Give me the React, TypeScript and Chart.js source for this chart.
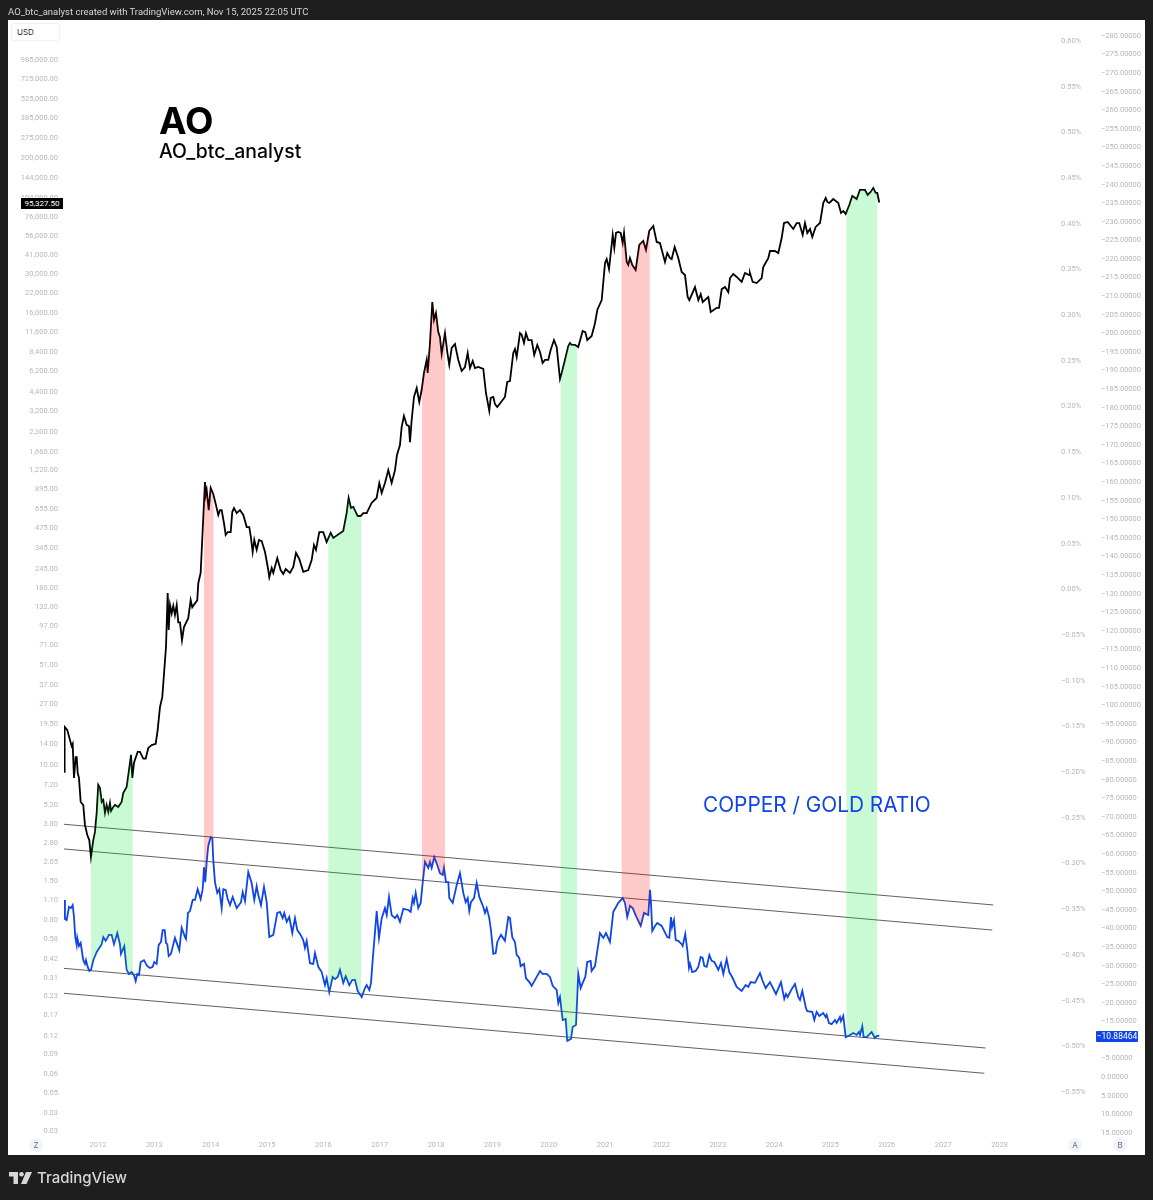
import React, { useEffect, useRef } from 'react';
import { Chart, registerables } from 'chart.js';

Chart.register(...registerables);

const btcYears = [
  2011.397, 2011.402, 2011.414, 2011.455, 2011.503, 2011.533, 2011.551, 2011.574, 2011.604, 2011.622, 2011.64, 2011.663,
  2011.693, 2011.739, 2011.769, 2011.81, 2011.846, 2011.876, 2011.917, 2011.947, 2011.977, 2012.005, 2012.035, 2012.066,
  2012.094, 2012.124, 2012.154, 2012.183, 2012.213, 2012.231, 2012.272, 2012.302, 2012.36, 2012.42, 2012.449, 2012.509,
  2012.568, 2012.586, 2012.609, 2012.639, 2012.705, 2012.745, 2012.804, 2012.846, 2012.893, 2012.953, 2013.024, 2013.059,
  2013.1, 2013.141, 2013.177, 2013.207, 2013.237, 2013.255, 2013.278, 2013.308, 2013.336, 2013.366, 2013.397, 2013.425,
  2013.455, 2013.491, 2013.526, 2013.602, 2013.645, 2013.673, 2013.762, 2013.78, 2013.822, 2013.858, 2013.899, 2013.911,
  2013.929, 2013.965, 2014.0, 2014.046, 2014.094, 2014.135, 2014.165, 2014.195, 2014.236, 2014.266, 2014.302, 2014.355,
  2014.383, 2014.414, 2014.462, 2014.52, 2014.579, 2014.64, 2014.685, 2014.715, 2014.745, 2014.774, 2014.816, 2014.857,
  2014.905, 2014.964, 2015.022, 2015.04, 2015.083, 2015.111, 2015.182, 2015.242, 2015.288, 2015.331, 2015.407, 2015.466,
  2015.514, 2015.572, 2015.643, 2015.732, 2015.792, 2015.833, 2015.869, 2015.927, 2015.998, 2016.058, 2016.13, 2016.176,
  2016.353, 2016.413, 2016.448, 2016.49, 2016.53, 2016.609, 2016.662, 2016.708, 2016.768, 2016.856, 2016.945, 2016.992,
  2017.035, 2017.093, 2017.152, 2017.212, 2017.271, 2017.306, 2017.359, 2017.389, 2017.43, 2017.478, 2017.519, 2017.537,
  2017.567, 2017.608, 2017.656, 2017.702, 2017.744, 2017.785, 2017.833, 2017.851, 2017.892, 2017.933, 2017.963, 2017.998,
  2018.039, 2018.069, 2018.099, 2018.158, 2018.199, 2018.234, 2018.277, 2018.335, 2018.394, 2018.454, 2018.513, 2018.561,
  2018.602, 2018.65, 2018.69, 2018.749, 2018.838, 2018.885, 2018.944, 2018.969, 2019.015, 2019.045, 2019.086, 2019.222,
  2019.263, 2019.311, 2019.37, 2019.4, 2019.43, 2019.489, 2019.519, 2019.56, 2019.595, 2019.636, 2019.696, 2019.742,
  2019.796, 2019.844, 2019.891, 2019.932, 2019.991, 2020.033, 2020.092, 2020.14, 2020.199, 2020.229, 2020.287, 2020.346,
  2020.376, 2020.406, 2020.465, 2020.523, 2020.601, 2020.648, 2020.683, 2020.761, 2020.82, 2020.861, 2020.939, 2020.998,
  2021.028, 2021.069, 2021.135, 2021.163, 2021.193, 2021.234, 2021.276, 2021.312, 2021.335, 2021.383, 2021.411, 2021.441,
  2021.482, 2021.542, 2021.606, 2021.677, 2021.725, 2021.783, 2021.855, 2021.915, 2021.973, 2022.062, 2022.103, 2022.151,
  2022.181, 2022.234, 2022.298, 2022.358, 2022.417, 2022.465, 2022.494, 2022.595, 2022.654, 2022.696, 2022.732, 2022.831,
  2022.874, 2022.98, 2023.021, 2023.069, 2023.127, 2023.186, 2023.216, 2023.274, 2023.335, 2023.423, 2023.482, 2023.558,
  2023.57, 2023.618, 2023.689, 2023.778, 2023.806, 2023.895, 2023.926, 2024.014, 2024.073, 2024.133, 2024.174, 2024.24,
  2024.339, 2024.399, 2024.445, 2024.506, 2024.547, 2024.588, 2024.636, 2024.676, 2024.736, 2024.813, 2024.871, 2024.914,
  2024.943, 2024.978, 2025.049, 2025.138, 2025.186, 2025.227, 2025.269, 2025.333, 2025.386, 2025.464, 2025.522, 2025.611,
  2025.659, 2025.712, 2025.758, 2025.801, 2025.829, 2025.865,
];

const btcClose = [
  8.78, 14.8, 18.3, 17.4, 14.8, 13.4, 13.9, 7.96, 11.2, 11.2, 8.63, 7.96,
  5.38, 5.12, 3.7, 3.14, 2.89, 2.19, 2.89, 3.3, 4.5, 7.1, 6.76, 5.38,
  5.56, 4.5, 5.12, 4.57, 5.29, 4.64, 4.96, 5.12, 4.96, 5.38, 6.23, 6.87,
  10.2, 11.6, 7.96, 10.2, 12.2, 12.2, 10.9, 10.9, 13, 13.6, 13.9, 17.4,
  25.3, 29.8, 46.4, 67.5, 163, 89, 134, 117, 132, 114, 134, 101,
  101, 75.5, 93.5, 108, 145, 129, 145, 191, 226, 455, 997, 806,
  875, 630, 904, 819, 685, 582, 630, 630, 510, 420, 440, 440,
  610, 652, 600, 630, 582, 478, 478, 400, 318, 387, 329, 387,
  380, 318, 237, 211, 245, 226, 288, 237, 222, 241, 226, 249,
  313, 284, 230, 237, 279, 356, 329, 440, 440, 374, 434, 400,
  448, 600, 768, 652, 663, 572, 572, 600, 600, 708, 768, 980,
  833, 980, 1210, 980, 1210, 1550, 1820, 2440, 2930, 2530, 2480, 1910,
  2740, 3990, 4620, 3680, 4470, 5900, 7300, 5900, 9630, 18800, 14000, 15700,
  11500, 10600, 8050, 11300, 8310, 6730, 8880, 9480, 7300, 6100, 6510, 8180,
  6400, 7180, 6400, 6510, 6300, 4260, 3180, 3930, 3990, 3560, 3390, 3990,
  5100, 5180, 8180, 8730, 7660, 11300, 11000, 9630, 11300, 10100, 10100, 7920,
  9330, 8310, 6950, 7300, 7300, 8590, 10100, 9020, 5350, 5900, 7300, 9170,
  9630, 9330, 9330, 9020, 11700, 11500, 10100, 10800, 13300, 16500, 19400, 35500,
  37900, 32200, 56100, 45400, 58000, 58900, 58000, 49200, 58000, 36100, 34400, 38500,
  34400, 31700, 47700, 50900, 44000, 59900, 65000, 50100, 49200, 36100, 41800, 38500,
  37900, 46100, 38500, 30700, 29200, 20400, 19400, 24000, 19400, 21400, 18800, 20400,
  16000, 17100, 17100, 23200, 24000, 22100, 27800, 29700, 28300, 26100, 30200, 29200,
  30200, 26100, 25600, 27800, 33300, 38500, 43200, 43200, 41800, 53400, 68200, 69400,
  61900, 68200, 68200, 56100, 68200, 58000, 61900, 54300, 64000, 68200, 94600, 102600,
  96200, 94600, 100900, 94600, 80400, 83000, 79100, 91600, 106000, 100900, 117000, 117000,
  107800, 113200, 120800, 111400, 111400, 95327.5,
];

const ratioYears = [
  2011.402, 2011.414, 2011.445, 2011.485, 2011.521, 2011.551, 2011.574, 2011.597, 2011.622, 2011.633, 2011.663, 2011.693,
  2011.739, 2011.769, 2011.787, 2011.817, 2011.846, 2011.876, 2011.917, 2011.977, 2012.023, 2012.066, 2012.094, 2012.137,
  2012.195, 2012.243, 2012.284, 2012.343, 2012.39, 2012.408, 2012.467, 2012.509, 2012.55, 2012.598, 2012.639, 2012.669,
  2012.697, 2012.728, 2012.758, 2012.816, 2012.875, 2012.923, 2012.971, 2012.999, 2013.042, 2013.077, 2013.118, 2013.148,
  2013.184, 2013.207, 2013.23, 2013.255, 2013.295, 2013.366, 2013.443, 2013.485, 2013.544, 2013.562, 2013.597, 2013.633,
  2013.681, 2013.721, 2013.769, 2013.822, 2013.858, 2013.881, 2013.904, 2013.929, 2013.957, 2014.0, 2014.028, 2014.046,
  2014.076, 2014.117, 2014.153, 2014.195, 2014.224, 2014.266, 2014.302, 2014.343, 2014.39, 2014.462, 2014.538, 2014.568,
  2014.609, 2014.667, 2014.727, 2014.774, 2014.816, 2014.845, 2014.893, 2014.946, 2014.994, 2015.04, 2015.111, 2015.182,
  2015.23, 2015.278, 2015.306, 2015.349, 2015.395, 2015.448, 2015.496, 2015.537, 2015.597, 2015.643, 2015.673, 2015.704,
  2015.762, 2015.821, 2015.851, 2015.91, 2015.97, 2016.028, 2016.058, 2016.105, 2016.165, 2016.206, 2016.254, 2016.295,
  2016.353, 2016.396, 2016.46, 2016.513, 2016.561, 2016.609, 2016.68, 2016.738, 2016.768, 2016.815, 2016.845, 2016.875,
  2016.946, 2016.987, 2017.035, 2017.093, 2017.124, 2017.164, 2017.212, 2017.271, 2017.311, 2017.359, 2017.418, 2017.507,
  2017.549, 2017.585, 2017.608, 2017.638, 2017.684, 2017.727, 2017.762, 2017.803, 2017.862, 2017.892, 2017.922, 2017.968,
  2018.021, 2018.069, 2018.117, 2018.14, 2018.176, 2018.217, 2018.234, 2018.295, 2018.366, 2018.424, 2018.483, 2018.525,
  2018.561, 2018.589, 2018.619, 2018.673, 2018.72, 2018.767, 2018.838, 2018.868, 2018.898, 2018.944, 2018.974, 2019.015,
  2019.058, 2019.086, 2019.152, 2019.222, 2019.281, 2019.311, 2019.352, 2019.4, 2019.43, 2019.476, 2019.501, 2019.56,
  2019.595, 2019.666, 2019.696, 2019.785, 2019.844, 2019.891, 2019.962, 2020.021, 2020.069, 2020.14, 2020.169, 2020.199,
  2020.247, 2020.3, 2020.328, 2020.394, 2020.424, 2020.483, 2020.523, 2020.566, 2020.601, 2020.648, 2020.683, 2020.743,
  2020.761, 2020.82, 2020.908, 2020.967, 2021.015, 2021.086, 2021.145, 2021.193, 2021.234, 2021.312, 2021.352, 2021.393,
  2021.441, 2021.489, 2021.547, 2021.631, 2021.69, 2021.766, 2021.796, 2021.814, 2021.837, 2021.885, 2021.926, 2022.004,
  2022.103, 2022.139, 2022.169, 2022.187, 2022.222, 2022.252, 2022.298, 2022.358, 2022.376, 2022.422, 2022.458, 2022.488,
  2022.506, 2022.546, 2022.607, 2022.653, 2022.696, 2022.731, 2022.76, 2022.802, 2022.849, 2022.891, 2022.938, 2023.008,
  2023.056, 2023.097, 2023.157, 2023.203, 2023.263, 2023.334, 2023.423, 2023.494, 2023.54, 2023.583, 2023.659, 2023.748,
  2023.796, 2023.849, 2023.925, 2024.032, 2024.12, 2024.179, 2024.209, 2024.239, 2024.31, 2024.369, 2024.427, 2024.458,
  2024.499, 2024.564, 2024.587, 2024.676, 2024.712, 2024.754, 2024.8, 2024.871, 2024.914, 2024.932, 2024.972, 2025.02,
  2025.079, 2025.109, 2025.167, 2025.185, 2025.226, 2025.269, 2025.315, 2025.404, 2025.464, 2025.505, 2025.523, 2025.564,
  2025.588, 2025.641, 2025.73, 2025.788, 2025.818, 2025.865,
];

const ratioValues = [
  -47.4, -42.3, -42, -45.5, -45.2, -46, -42.8, -37.4, -35.3, -37.2, -35, -35.8,
  -31.2, -30.2, -31.2, -29.4, -28.3, -28.6, -31.2, -33.4, -34.5, -35.5, -37.4, -36.4,
  -38, -38, -35.5, -38.5, -35.5, -32.9, -35, -28.6, -27.5, -28, -27.2, -25.6,
  -27.5, -27.2, -30.7, -31.2, -29.6, -29.1, -29.4, -30.7, -30.2, -35.3, -36.1, -39.3,
  -39.3, -35.8, -35.5, -32.3, -32.9, -37.2, -33.9, -39.9, -37.4, -36.9, -43.9, -44.4,
  -47.4, -47.4, -50.3, -47.65, -50.3, -56.2, -52.2, -57.6, -61.9, -64.3, -64.05, -58.1,
  -52.2, -49.3, -50.3, -45.2, -50.3, -50.1, -47.65, -46, -48.2, -45.2, -46.8, -49.5,
  -47.1, -54.9, -51.95, -47.4, -51.1, -48.7, -46, -50.9, -46.8, -37.4, -38, -43.9,
  -44.2, -42.5, -43.9, -41.5, -42.8, -38.5, -42.5, -39.3, -38, -36.6, -34.5, -36.4,
  -30.4, -30.2, -33.1, -29.4, -28, -24.5, -26.4, -22.6, -26.7, -26.1, -26.7, -28.6,
  -25.1, -26.9, -24.5, -25.9, -25.9, -22.9, -21.3, -23.7, -24.5, -23.2, -25.1, -31.2,
  -44.4, -37.2, -42.5, -45.2, -43.3, -48.2, -43.3, -42.5, -43.3, -41.5, -45, -44.7,
  -44.2, -47.9, -46.6, -49.3, -45.2, -46.6, -51.95, -57.6, -56, -57.6, -56, -58.9,
  -56.8, -54.6, -54.1, -56, -52.2, -52.2, -47.9, -46.6, -51.4, -54.6, -49.3, -46.8,
  -47.9, -44.4, -46.8, -47.9, -51.95, -48.2, -45.5, -43.9, -45.2, -42.5, -39.3, -32.9,
  -33.1, -36.1, -38, -36.4, -42.8, -42.5, -37.4, -36.1, -32.6, -31.8, -29.6, -30.2,
  -26.4, -25.1, -24.3, -26.7, -28.3, -27.5, -27.5, -26.7, -24.3, -23.2, -19.7, -21.3,
  -15.1, -15.4, -9.5, -10, -13.2, -13.8, -27.5, -23.7, -25.1, -26.7, -30.7, -31,
  -28.3, -29.6, -38.5, -37.2, -38.5, -36.1, -44.2, -45.5, -46.6, -47.9, -46.6, -42.8,
  -45.8, -45.2, -43.1, -40.4, -43.9, -43.3, -50.1, -46.6, -39.05, -40.4, -41.2, -40.4,
  -37.4, -37.2, -42.8, -40.1, -42, -36.6, -36.4, -35.5, -35, -38.2, -33.9, -29.1,
  -30.2, -28, -28.3, -29.4, -32.05, -31.8, -29.6, -29.4, -32.6, -31, -30.7, -28.6,
  -30.4, -27.5, -31.5, -28, -26.4, -24, -22.9, -24.5, -24, -25.3, -25.1, -27.75,
  -25.6, -23.7, -25.3, -22.1, -25.3, -20.8, -22.1, -21.3, -23.4, -24.8, -21.3, -20.5,
  -22.9, -18.3, -17.5, -17.3, -15.1, -17.3, -16.2, -17, -15.9, -16.5, -14.3, -14,
  -15.1, -14.3, -15.9, -14.8, -16.2, -10.5, -10.8, -11.6, -11.1, -11.9, -11.1, -13.5,
  -10.5, -10.5, -11.9, -10.3, -10.8, -10.88464,
];

// channel lines drawn on the ratio pane: year and value at each end
const channelYearsFrom = [2011.397, 2011.397, 2011.397, 2011.397];
const channelYearsTo = [2027.888, 2027.87, 2027.75, 2027.73];
const channelValuesFrom = [-67.74, -61.1, -29.0, -22.3];
const channelValuesTo = [-46.04, -39.3, -7.58, -0.78];

const bandStarts = [2011.876, 2013.881, 2016.087, 2017.75, 2020.211, 2021.292, 2025.281];
const bandEnds = [2012.616, 2014.05, 2016.671, 2018.158, 2020.5, 2021.792, 2025.828];
const bandKinds = ['buy', 'sell', 'buy', 'sell', 'buy', 'sell', 'buy'];

const yearTicks = [2012, 2013, 2014, 2015, 2016, 2017, 2018, 2019, 2020, 2021, 2022, 2023, 2024, 2025, 2026, 2027, 2028];
const priceTicks = [
  985000, 725000, 525000, 385000, 275000, 200000, 144000, 104000, 76000, 56000, 41000, 30000, 22000, 16000, 11600, 8400,
  6200, 4400, 3200, 2300, 1660, 1220, 895, 655, 475, 345, 245, 180, 132, 97, 71, 51, 37, 27, 19.5, 14, 10, 7.2, 5.2, 3.8,
  2.8, 2.05, 1.5, 1.1, 0.8, 0.58, 0.42, 0.31, 0.23, 0.17, 0.12, 0.09, 0.064, 0.047, 0.034, 0.0255,
];
const percentTicks = [
  0.6, 0.55, 0.5, 0.45, 0.4, 0.35, 0.3, 0.25, 0.2, 0.15, 0.1, 0.05, 0, -0.05, -0.1, -0.15, -0.2, -0.25, -0.3, -0.35, -0.4,
  -0.45, -0.5, -0.55,
];
const ratioTicks = [
  -280, -275, -270, -265, -260, -255, -250, -245, -240, -235, -230, -225, -220, -215, -210, -205, -200, -195, -190, -185,
  -180, -175, -170, -165, -160, -155, -150, -145, -140, -135, -130, -125, -120, -115, -110, -105, -100, -95, -90, -85, -80,
  -75, -70, -65, -60, -55, -50, -45, -40, -35, -30, -25, -20, -15, -5, 0, 5, 10, 15,
];

const TICK_COLOR = '#b4b7c0';
const TICK_FONT = { family: 'Roboto', size: 7.5 };
const NO_GRID = { display: false, drawTicks: false };

const withMinus = (v: number, digits: number) => (v < 0 ? '\u2212' : '') + Math.abs(v).toFixed(digits);

const toPoints = (xs: number[], ys: number[]) => xs.map((x, i) => ({ x, y: ys[i] }));

// green / red windows between the btc line and the ratio line
const bandsPlugin = {
  id: 'bands',
  afterDatasetsDraw(chart: any) {
    const { ctx, scales, chartArea } = chart;
    const top = chart.getDatasetMeta(0).data;
    const bottom = chart.getDatasetMeta(1).data;
    bandStarts.forEach((start, i) => {
      const x0 = scales.x.getPixelForValue(start);
      const x1 = scales.x.getPixelForValue(bandEnds[i]);
      ctx.save();
      ctx.beginPath();
      ctx.rect(x0, chartArea.top, x1 - x0, chartArea.height);
      ctx.clip();
      ctx.beginPath();
      top.forEach((p: any, j: number) => (j ? ctx.lineTo(p.x, p.y) : ctx.moveTo(p.x, p.y)));
      for (let j = bottom.length - 1; j >= 0; j--) ctx.lineTo(bottom[j].x, bottom[j].y);
      ctx.closePath();
      ctx.fillStyle = bandKinds[i] === 'buy' ? 'rgba(0,230,50,0.21)' : 'rgba(255,0,0,0.21)';
      ctx.fill();
      ctx.restore();
    });
  },
};

const label = (style: React.CSSProperties, text: string) => (
  <div style={{ position: 'absolute', whiteSpace: 'nowrap', fontFamily: 'Inter', ...style }}>{text}</div>
);

const badge = (x: number, text: string) => (
  <div style={{
    position: 'absolute', left: x - 7, top: 1138, width: 14, height: 14, borderRadius: '50%', background: '#f0f3fa',
    color: '#6a6d78', fontFamily: 'Inter', fontSize: 8, lineHeight: '14px', textAlign: 'center',
  }}>{text}</div>
);

export default function App() {
  const canvasRef = useRef<HTMLCanvasElement>(null);

  useEffect(() => {
    document.body.style.margin = '0';
    if (!canvasRef.current) return;

    const channels = channelYearsFrom.map((from, i) => ({
      type: 'line',
      yAxisID: 'ratio',
      data: toPoints([from, channelYearsTo[i]], [channelValuesFrom[i], channelValuesTo[i]]),
      borderColor: '#5f6064',
      borderWidth: 1,
      pointRadius: 0,
    }));

    const chart = new Chart(canvasRef.current, {
      type: 'line',
      data: {
        datasets: [
          {
            label: 'BTC',
            yAxisID: 'price',
            data: toPoints(btcYears, btcClose),
            borderColor: '#000000',
            borderWidth: 1.8,
            pointRadius: 0,
            tension: 0,
          },
          {
            label: 'Copper / Gold',
            yAxisID: 'ratio',
            data: toPoints(ratioYears, ratioValues),
            borderColor: '#0f45e6',
            borderWidth: 1.8,
            pointRadius: 0,
            tension: 0,
          },
          ...channels,
        ],
      } as any,
      options: {
        responsive: false,
        animation: false,
        layout: { padding: { top: 21 } },
        plugins: { legend: { display: false }, tooltip: { enabled: false } },
        scales: {
          x: {
            type: 'linear',
            min: 2011.397,
            max: 2028.948,
            grid: NO_GRID,
            border: { display: false },
            afterBuildTicks: (s: any) => { s.ticks = yearTicks.map((value) => ({ value })); },
            afterFit: (s: any) => { s.height = 65; },
            ticks: {
              color: TICK_COLOR, font: TICK_FONT, padding: 6, autoSkip: false, maxRotation: 0,
              callback: (v: any) => String(v),
            },
          },
          price: {
            type: 'logarithmic',
            position: 'left',
            min: 0.02348,
            max: 1843500,
            grid: NO_GRID,
            border: { display: false },
            afterBuildTicks: (s: any) => { s.ticks = priceTicks.map((value) => ({ value })); },
            afterFit: (s: any) => { s.width = 64; },
            ticks: {
              color: TICK_COLOR, font: TICK_FONT, padding: 6, autoSkip: false, labelOffset: 1,
              callback: (v: any) => Number(v).toLocaleString('en-US', { minimumFractionDigits: 2, maximumFractionDigits: 2 }),
            },
          },
          percent: {
            type: 'linear',
            position: 'right',
            weight: 0,
            min: -0.5981,
            max: 0.6208,
            grid: NO_GRID,
            border: { display: false },
            afterBuildTicks: (s: any) => { s.ticks = percentTicks.map((value) => ({ value })); },
            afterFit: (s: any) => { s.width = 42; },
            ticks: {
              color: TICK_COLOR, font: TICK_FONT, padding: 8, autoSkip: false, labelOffset: 1,
              callback: (v: any) => withMinus(Number(v), 2) + '%',
            },
          },
          ratio: {
            type: 'linear',
            position: 'right',
            weight: 1,
            reverse: true,
            min: -283.73,
            max: 15.81,
            grid: NO_GRID,
            border: { display: false },
            afterBuildTicks: (s: any) => { s.ticks = ratioTicks.map((value) => ({ value })); },
            afterFit: (s: any) => { s.width = 58; },
            ticks: {
              color: TICK_COLOR, font: TICK_FONT, padding: 6, autoSkip: false, labelOffset: 1,
              callback: (v: any) => withMinus(Number(v), 5),
            },
          },
        },
      } as any,
      plugins: [bandsPlugin],
    });

    return () => chart.destroy();
  }, []);

  return (
    <div style={{ position: 'relative', width: 1153, height: 1200, background: '#1e1e1e', overflow: 'hidden' }}>
      <div style={{ position: 'absolute', left: 8, top: 20, width: 1137, height: 1135, background: '#ffffff' }} />
      <canvas ref={canvasRef} width={1153} height={1200} style={{ position: 'absolute', left: 0, top: 0, display: 'block' }} />

      {label({ left: 8, top: 5, fontSize: 9.5, lineHeight: '13px', color: '#d6d6d6', fontFamily: 'Roboto' }, 'AO_btc_analyst created with TradingView.com, Nov 15, 2025 22:05 UTC')}

      <div style={{ position: 'absolute', left: 11, top: 23, width: 49, height: 18, background: '#fff', border: '1px solid #f0f1f4', borderRadius: 3, boxSizing: 'border-box' }} />
      {label({ left: 17, top: 27, fontSize: 8, lineHeight: '10px', color: '#2a2e39' }, 'USD')}

      {label({ left: 159, top: 98, fontSize: 37, lineHeight: '45px', fontWeight: 700, color: '#000' }, 'AO')}
      {label({ left: 159, top: 139, fontSize: 19.4, lineHeight: '24px', fontWeight: 500, color: '#000' }, 'AO_btc_analyst')}
      {label({ left: 703, top: 793, fontSize: 20.8, lineHeight: '24px', color: '#0f45e6' }, 'COPPER / GOLD RATIO')}

      <div style={{ position: 'absolute', left: 21, top: 198, width: 42, height: 11, background: '#000', color: '#fff', fontFamily: 'Roboto', fontSize: 8, lineHeight: '11px', textAlign: 'center' }}>95,327.50</div>
      <div style={{ position: 'absolute', left: 1096, top: 1031, width: 42, height: 11, background: '#0f45e6', borderRadius: 1, color: '#fff', fontFamily: 'Roboto', fontSize: 8.5, lineHeight: '11px', textAlign: 'center' }}>{'\u221210.88464'}</div>

      {badge(36, 'Z')}
      {badge(1075, 'A')}
      {badge(1120, 'B')}

      <svg style={{ position: 'absolute', left: 9, top: 1172 }} width="23" height="12" viewBox="0 0 23 12">
        <path d="M0 0H9V12H4.5V4.5H0Z M17 0H23L17.5 12H12Z" fill="#d6d6d6" />
        <circle cx="12.5" cy="2.3" r="2.3" fill="#d6d6d6" />
      </svg>
      {label({ left: 37, top: 1168, fontSize: 15, lineHeight: '20px', fontWeight: 500, color: '#d6d6d6' }, 'TradingView')}
    </div>
  );
}
